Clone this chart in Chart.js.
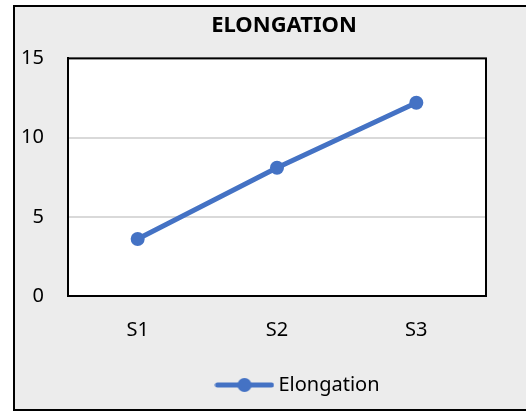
<!DOCTYPE html>
<html>
<head>
<meta charset="utf-8">
<script src="https://cdn.jsdelivr.net/npm/chart.js@4"></script>
<style>
  html, body { margin: 0; padding: 0; background: #ffffff; }
  #wrap { position: relative; width: 526px; height: 412px; }
</style>
</head>
<body>
<div id="wrap"><canvas id="elongation-chart" width="526" height="412"></canvas></div>
<script>
// Elongation chart data
const categories = ['S1', 'S2', 'S3'];
const elongationValues = [3.6, 8.1, 12.2];
const yTicks = [0, 5, 10, 15];
const seriesName = 'Elongation';
const chartTitle = 'ELONGATION';

const blue = '#4472c4';

// legend marker: line with a dot in the middle
const legendMarker = document.createElement('canvas');
legendMarker.width = 60;
legendMarker.height = 16;
(() => {
    const c = legendMarker.getContext('2d');
    c.strokeStyle = blue;
    c.lineWidth = 5;
    c.lineCap = 'round';
    c.beginPath();
    c.moveTo(3, 8);
    c.lineTo(57, 8);
    c.stroke();
    c.fillStyle = blue;
    c.beginPath();
    c.arc(30, 8, 7, 0, Math.PI * 2);
    c.fill();
})();

// frame, grey panel, white plot area with black border
const framePlugin = {
    id: 'frame',
    beforeDraw(chart) {
        const ctx = chart.ctx;
        const area = chart.chartArea;
        ctx.save();
        ctx.fillStyle = '#ffffff';
        ctx.fillRect(0, 0, chart.width, chart.height);
        ctx.fillStyle = '#ececec';
        ctx.fillRect(14, 6, chart.width - 14, 404);
        ctx.strokeStyle = '#000000';
        ctx.lineWidth = 2;
        ctx.beginPath();
        ctx.moveTo(chart.width, 6);
        ctx.lineTo(14, 6);
        ctx.lineTo(14, 410);
        ctx.lineTo(chart.width, 410);
        ctx.stroke();
        ctx.fillStyle = '#ffffff';
        ctx.fillRect(area.left, area.top, area.right - area.left, area.bottom - area.top);
        ctx.restore();
    },
    beforeDatasetsDraw(chart) {
        const ctx = chart.ctx;
        const area = chart.chartArea;
        ctx.save();
        ctx.strokeStyle = '#000000';
        ctx.lineWidth = 2;
        ctx.strokeRect(area.left, area.top, area.right - area.left, area.bottom - area.top);
        ctx.restore();
    },
    afterLayout(chart) {
        // Excel centres title and legend on the wider (cropped) frame
        const t = chart.titleBlock;
        if (t) { t.left += 41; t.right += 41; }
        const lg = chart.legend;
        if (lg) { lg.left += 57; lg.right += 57; }
    }
};

const ctx = document.getElementById('elongation-chart').getContext('2d');

const elongationChart = new Chart(ctx, {
    type: 'line',
    data: {
        labels: categories,
        datasets: [{
            label: seriesName,
            data: elongationValues,
            borderColor: blue,
            backgroundColor: blue,
            borderWidth: 5,
            pointRadius: 7,
            pointHoverRadius: 7,
            pointBackgroundColor: blue,
            pointBorderWidth: 0,
            pointStyle: 'circle',
            tension: 0,
            fill: false
        }]
    },
    options: {
        responsive: false,
        animation: false,
        layout: {
            padding: { left: 0, right: 40, top: 0, bottom: 7 }
        },
        plugins: {
            title: {
                display: true,
                text: chartTitle,
                color: '#000000',
                font: { family: 'Noto Sans', size: 22, weight: 'bold' },
                padding: { top: 13, bottom: 19 }
            },
            legend: {
                display: true,
                position: 'bottom',
                labels: {
                    color: '#000000',
                    font: { family: 'Noto Sans', size: 20 },
                    usePointStyle: true,
                    pointStyle: legendMarker,
                    pointStyleWidth: 48,
                    padding: 11
                }
            },
            tooltip: { enabled: false }
        },
        scales: {
            x: {
                offset: true,
                grid: {
                    display: true,
                    drawOnChartArea: false,
                    drawTicks: false
                },
                border: { display: true, color: '#000000', width: 2 },
                ticks: {
                    color: '#000000',
                    font: { family: 'Noto Sans', size: 20 },
                    padding: 22
                }
            },
            y: {
                min: yTicks[0],
                max: yTicks[yTicks.length - 1],
                afterFit: scale => { scale.width = 68; },
                afterBuildTicks: scale => { scale.ticks = yTicks.map(v => ({ value: v })); },
                grid: {
                    color: '#d9d9d9',
                    lineWidth: 2,
                    drawTicks: false
                },
                border: { display: true, color: '#000000', width: 2 },
                ticks: {
                    color: '#000000',
                    font: { family: 'Noto Sans', size: 20 },
                    padding: 24
                }
            }
        }
    },
    plugins: [framePlugin]
});
</script>
</body>
</html>
